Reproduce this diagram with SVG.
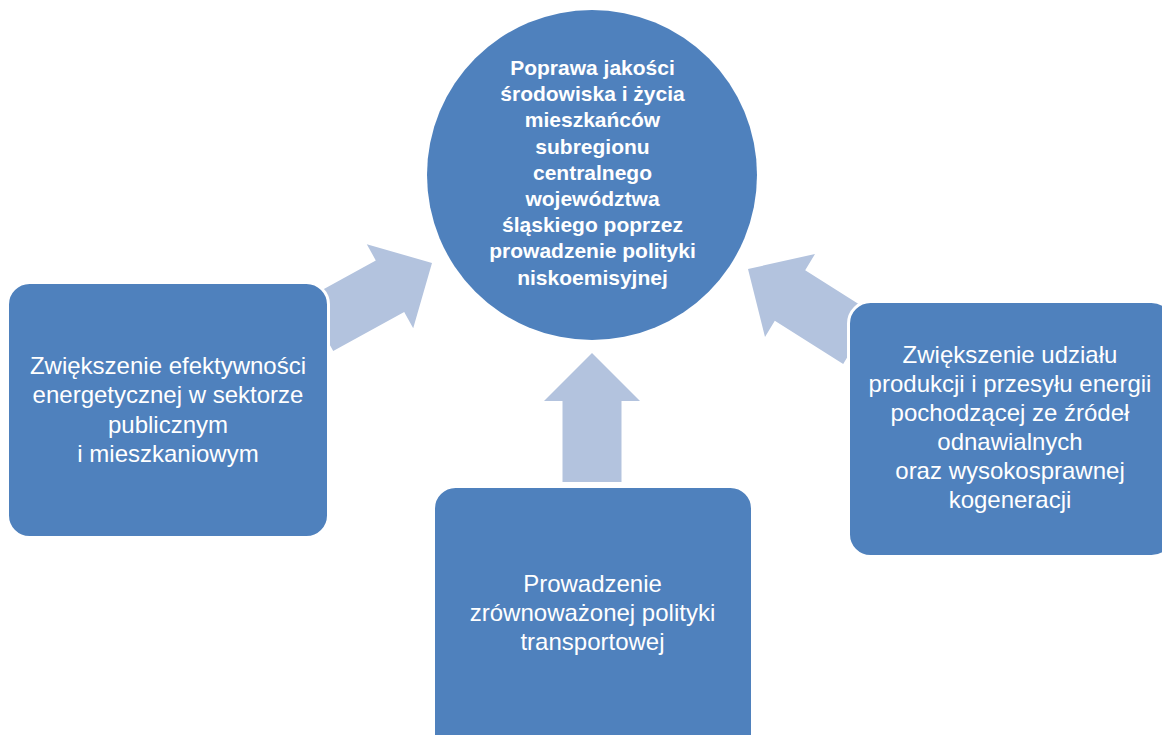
<svg xmlns="http://www.w3.org/2000/svg" width="1162" height="735" viewBox="0 0 1162 735">
<style>
.box{fill:#4F81BD;stroke:#FFFFFF;stroke-width:3}
.arrow{fill:#B3C3DE}
.t{font-family:"Liberation Sans",Arial,sans-serif;fill:#FFFFFF;text-anchor:middle;font-size:24px}
.tb{font-family:"Liberation Sans",Arial,sans-serif;fill:#FFFFFF;text-anchor:middle;font-size:21px;font-weight:bold}
</style>
<rect width="1162" height="735" fill="#FFFFFF"/>
<g id="connectors">
<polygon class="arrow" points="432,263 366.8,244.2 375.8,260.4 304.8,299.5 333.2,351.1 404.2,312 413.2,328.2"/>
<polygon class="arrow" points="748,269 815,254 805.2,270.2 873.6,313.4 843.2,364 774.8,320.8 765,337"/>
<polygon class="arrow" points="592,353 640,401 621.5,401 621.5,482 562.5,482 562.5,401 544,401"/>
</g>
<g id="goal">
<circle cx="592" cy="175" r="165" fill="#4F81BD"/>
<text class="tb" x="592.5"><tspan x="592.5" y="75">Poprawa jakości</tspan><tspan x="592.5" y="101.2">środowiska i życia</tspan><tspan x="592.5" y="127.4">mieszkańców</tspan><tspan x="592.5" y="153.6">subregionu</tspan><tspan x="592.5" y="179.8">centralnego</tspan><tspan x="592.5" y="206">województwa</tspan><tspan x="592.5" y="232.2">śląskiego poprzez</tspan><tspan x="592.5" y="258.4">prowadzenie polityki</tspan><tspan x="592.5" y="284.6">niskoemisyjnej</tspan></text>
</g>
<g id="left-node">
<rect class="box" x="7.5" y="282.5" width="321" height="255" rx="22"/>
<text class="t"><tspan x="168" y="374">Zwiększenie efektywności</tspan><tspan x="168" y="403.3">energetycznej w sektorze</tspan><tspan x="168" y="432.6">publicznym</tspan><tspan x="168" y="462">i mieszkaniowym</tspan></text>
</g>
<g id="right-node">
<rect class="box" x="848.5" y="301.5" width="325" height="255" rx="22"/>
<text class="t"><tspan x="1010" y="363">Zwiększenie udziału</tspan><tspan x="1010" y="392">produkcji i przesyłu energii</tspan><tspan x="1010" y="421">pochodzącej ze źródeł</tspan><tspan x="1010" y="450">odnawialnych</tspan><tspan x="1010" y="479">oraz wysokosprawnej</tspan><tspan x="1010" y="508">kogeneracji</tspan></text>
</g>
<g id="bottom-node">
<rect class="box" x="433.5" y="486.5" width="319" height="270" rx="22"/>
<text class="t"><tspan x="592.5" y="592">Prowadzenie</tspan><tspan x="592.5" y="621">zrównoważonej polityki</tspan><tspan x="592.5" y="650">transportowej</tspan></text>
</g>
</svg>
